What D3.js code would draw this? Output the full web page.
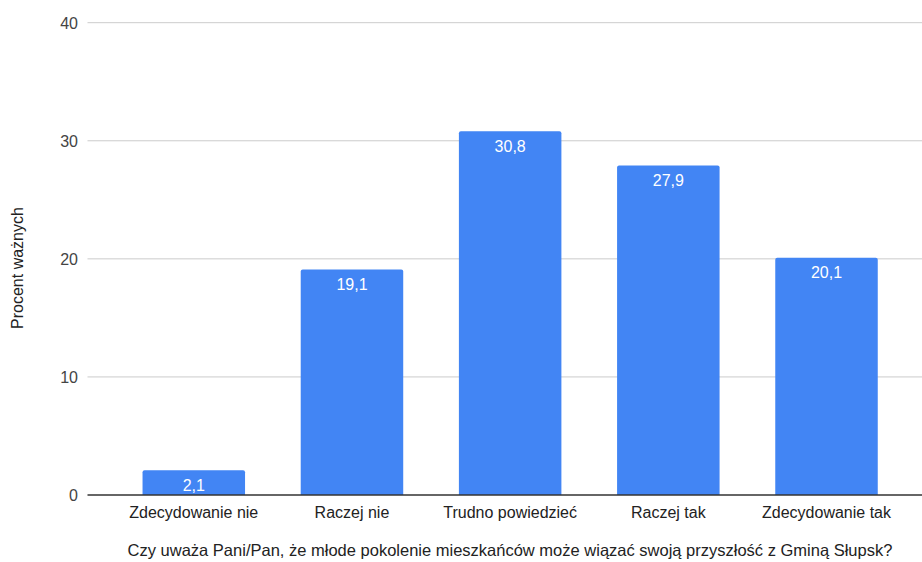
<!DOCTYPE html>
<html><head><meta charset="utf-8">
<script src="https://cdn.jsdelivr.net/npm/d3@7"></script>
<style>body{margin:0;background:#fff}svg{display:block;font-family:Arial,"Liberation Sans",sans-serif}</style>
</head><body>
<svg id="c" width="922" height="562"></svg>
<script>
const categories = ["Zdecydowanie nie","Raczej nie","Trudno powiedzieć","Raczej tak","Zdecydowanie tak"];
const values = [2.1, 19.1, 30.8, 27.9, 20.1];
const valueLabels = ["2,1","19,1","30,8","27,9","20,1"];
const yTicks = [0,10,20,30,40];
const xTitle = "Czy uważa Pani/Pan, że młode pokolenie mieszkańców może wiązać swoją przyszłość z Gminą Słupsk?";
const yTitle = "Procent ważnych";

const svg = d3.select("#c");
const x = d3.scaleBand().domain(categories).range([114.7, 905.6]).paddingInner(0.352).paddingOuter(0.176);
const y = d3.scaleLinear().domain([0,40]).range([495, 22.7]);
const gridX0 = 87.5, gridX1 = 922;

svg.append("g").selectAll("line").data(yTicks.filter(d=>d>0)).join("line")
  .attr("x1",gridX0).attr("x2",gridX1).attr("y1",d=>y(d)).attr("y2",d=>y(d))
  .attr("stroke","#cccccc").attr("stroke-width",1);

svg.append("g").selectAll("text").data(yTicks).join("text")
  .attr("x",78).attr("y",d=>y(d)+6).attr("text-anchor","end")
  .attr("font-size",16).attr("fill","#444").text(d=>d);

const bw = x.bandwidth();
svg.append("g").selectAll("path").data(values).join("path")
  .attr("fill","#4285F4")
  .attr("d",(d,i)=>{
    const x0=x(categories[i]), x1=x0+bw, y0=y(d), yb=y(0), r=2;
    return `M${x0},${yb}V${y0+r}Q${x0},${y0} ${x0+r},${y0}H${x1-r}Q${x1},${y0} ${x1},${y0+r}V${yb}Z`;
  });

svg.append("g").selectAll("text").data(values).join("text")
  .attr("x",(d,i)=>x(categories[i])+bw/2).attr("y",d=>y(d)+20.5)
  .attr("text-anchor","middle").attr("font-size",16).attr("fill","#fff")
  .text((d,i)=>valueLabels[i]);

svg.append("line").attr("x1",gridX0).attr("x2",gridX1).attr("y1",y(0)).attr("y2",y(0))
  .attr("stroke","#333").attr("stroke-width",1.3);

svg.append("g").selectAll("text").data(categories).join("text")
  .attr("x",d=>x(d)+bw/2).attr("y",517.5).attr("text-anchor","middle")
  .attr("font-size",16).attr("fill","#222").text(d=>d);

svg.append("text").attr("x",510).attr("y",556).attr("text-anchor","middle")
  .attr("font-size",16.5).attr("fill","#222").text(xTitle);

svg.append("text").attr("transform","translate(23,268) rotate(-90)").attr("text-anchor","middle")
  .attr("font-size",16).attr("fill","#222").text(yTitle);
</script>
</body></html>
